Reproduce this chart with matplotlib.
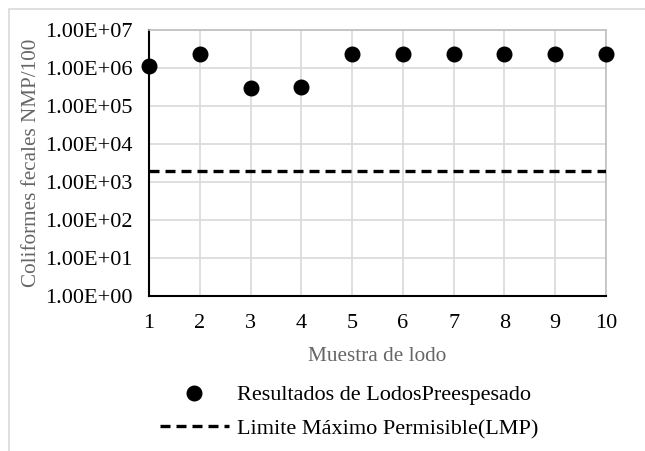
import matplotlib.pyplot as plt
from matplotlib.patches import Rectangle

# datos
muestras = [1, 2, 3, 4, 5, 6, 7, 8, 9, 10]
coliformes = [1.15e6, 2.4e6, 3.0e5, 3.2e5, 2.4e6, 2.4e6, 2.4e6, 2.4e6, 2.4e6, 2.4e6]
lmp = [2000] * len(muestras)
y_ticks = [1e0, 1e1, 1e2, 1e3, 1e4, 1e5, 1e6, 1e7]

plt.rcParams["font.family"] = ["Liberation Serif", "DejaVu Serif"]

fig = plt.figure(figsize=(6.45, 4.51), dpi=100)
ax = fig.add_axes([149 / 645, 1 - 296 / 451, 457 / 645, 266 / 451])

# marco exterior
fig.patches.append(Rectangle((9 / 645, -0.1), 1.2, 1 - 9 / 451 + 0.1,
                             transform=fig.transFigure, fill=False,
                             edgecolor="#d9d9d9", linewidth=1.2))

ax.plot(muestras, coliformes, "o", color="black", markersize=10.5,
        label="Resultados de LodosPreespesado", clip_on=False, zorder=4)
ax.plot(muestras, lmp, "--", color="black", linewidth=2.4, dashes=(3, 1.8),
        label="Limite Máximo Permisible(LMP)", zorder=3)

ax.set_yscale("log")
ax.set_ylim(1, 1e7)
ax.set_xlim(1, 10)
ax.set_xticks(muestras)
ax.set_yticks(y_ticks)
ax.set_yticklabels(["{:.2E}".format(v) for v in y_ticks])
ax.minorticks_off()
ax.tick_params(length=0, labelsize=16)
ax.tick_params(axis="x", pad=13)
ax.tick_params(axis="y", pad=12)
ax.grid(True, color="#d9d9d9", linewidth=1.2)
ax.set_axisbelow(True)

for s in ["top", "right"]:
    ax.spines[s].set_color("#bfbfbf")
    ax.spines[s].set_linewidth(1.2)
for s in ["left", "bottom"]:
    ax.spines[s].set_color("black")
    ax.spines[s].set_linewidth(1.5)

ax.set_xlabel("Muestra de lodo", fontsize=15.3, color="#666666")
ax.set_ylabel("Coliformes fecales NMP/100", fontsize=15.2, color="#666666")
ax.xaxis.set_label_coords(0.5, -(347 - 296) / 266)
ax.yaxis.set_label_coords(-(149 - 41) / 457, 0.5)

fig.legend(loc="center left", bbox_to_anchor=(160 / 645, 1 - 412 / 451),
           frameon=False, fontsize=16, handlelength=3.1, handletextpad=0.35,
           labelspacing=0.6, borderpad=0, borderaxespad=0)

fig.savefig("out.png", dpi=100)
